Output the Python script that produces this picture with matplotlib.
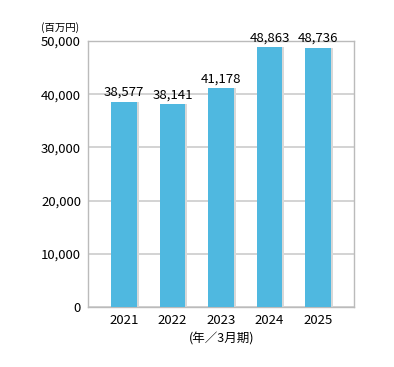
import matplotlib
matplotlib.use("Agg")
from matplotlib import pyplot as plt
import numpy as np

plt.rcParams['font.family'] = ['Noto Sans CJK JP', 'DejaVu Sans']

years = ['2021', '2022', '2023', '2024', '2025']
sales = [38577, 38141, 41178, 48863, 48736]
yticks = [0, 10000, 20000, 30000, 40000, 50000]

fig = plt.figure(figsize=(3.94, 3.67), dpi=100)
ax = fig.add_axes([88/394, 1 - 307/367, 266/394, 266/367])

x = np.arange(len(years))
# soft shadow behind bars
ax.bar(x + 0.04, sales, width=0.53, color='#d8d8d8', zorder=2)
ax.bar(x, sales, width=0.53, color='#4fb8e0', zorder=3)
for xi, v in zip(x, sales):
	ax.text(xi, v + 500, f'{v:,}', ha='center', va='bottom', fontsize=9.5, zorder=4)

ax.set_xlim(-0.74, 4.74)
ax.set_ylim(0, 50000)
ax.set_yticks(yticks)
ax.set_yticklabels([f'{t:,}' for t in yticks])
ax.set_xticks(x)
ax.set_xticklabels(years)
ax.tick_params(length=0, labelsize=9.5, pad=5)
ax.yaxis.grid(True, color='#cccccc', linewidth=1.2, zorder=0)
for s in ax.spines.values():
	s.set_color('#bbbbbb')
	s.set_linewidth(1)

fig.text(60/394, 1 - 28/367, '(百万円)', ha='center', va='center', fontsize=7.5)
fig.text(222/394, 1 - 339/367, '(年／3月期)', ha='center', va='center', fontsize=9)

fig.savefig('out.png', dpi=100)
